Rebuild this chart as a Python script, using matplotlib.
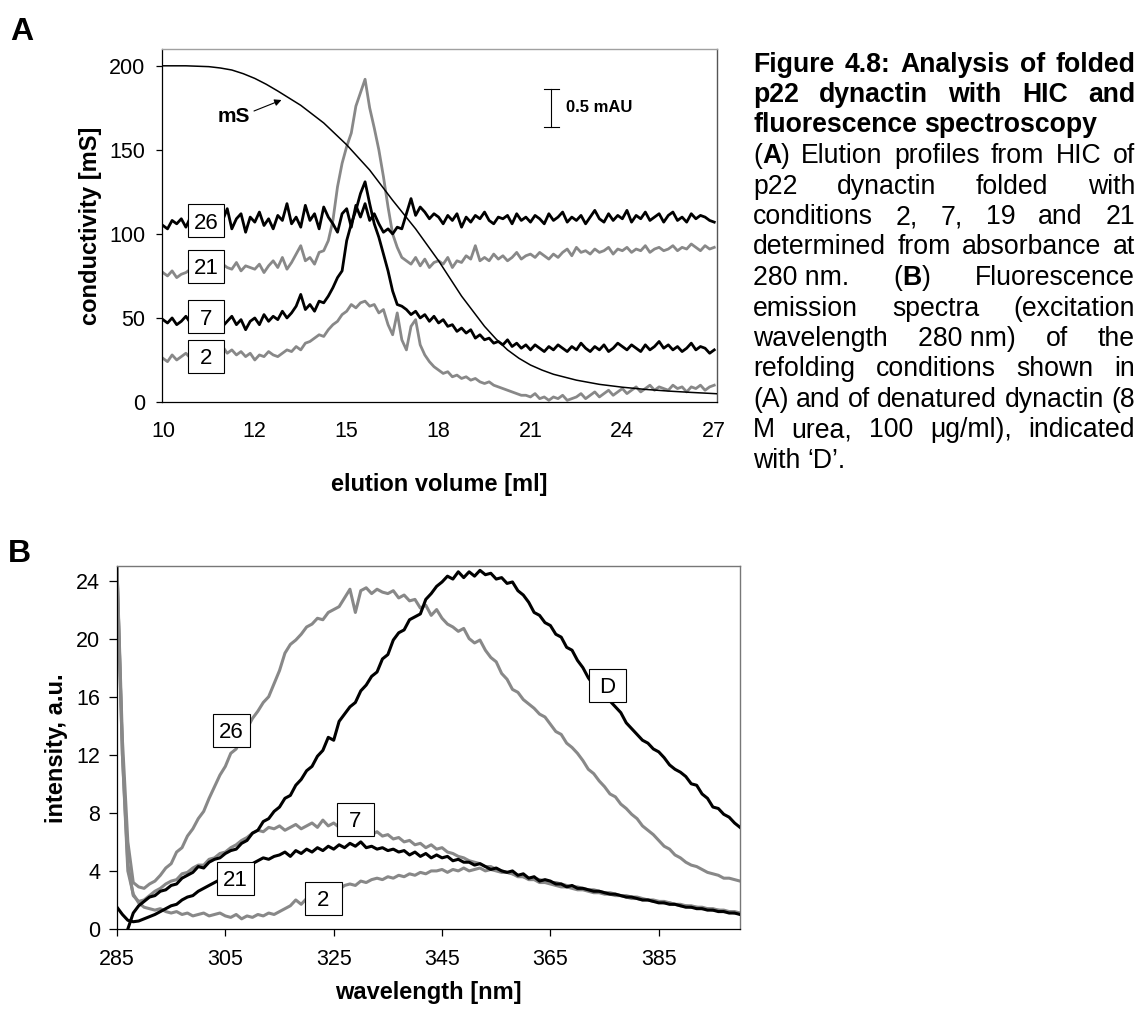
import numpy as np
import matplotlib
matplotlib.use('Agg')
import matplotlib.pyplot as plt
from matplotlib.patches import Rectangle
from matplotlib.lines import Line2D

plt.rcParams['font.family'] = ['Liberation Sans', 'DejaVu Sans']

# ---------------- Panel A data (x = category index of the Excel axis) ----------------
a_tick_labels = ['10', '12', '15', '18', '21', '24', '27']
a_pos = np.arange(121) * 0.05

ms_pos = [0, 0.25, 0.5, 0.625, 0.75, 0.875, 1.0, 1.125, 1.25, 1.5, 1.75, 2.0, 2.25, 2.5, 2.75,
          3.0, 3.25, 3.5, 3.625, 3.75, 3.875, 4.0, 4.125, 4.25, 4.5, 4.75, 5.0, 5.25, 5.5, 5.75, 6.0, 6.03]
ms_val = [200, 200, 199.5, 198.7, 197.5, 195.3, 192.5, 189, 185, 176.5, 166, 153, 138, 120, 103,
          84, 63, 45, 37.5, 31, 26, 22, 19, 16.5, 13, 10.5, 8.8, 7.5, 6.5, 5.7, 5.0, 4.9]

a26 = [105, 103, 108, 106, 109, 104, 110, 107, 105, 109,
       106, 111, 104, 108, 115, 103, 109, 112, 101, 110,
       107, 113, 105, 109, 103, 111, 108, 118, 106, 110,
       104, 117, 108, 112, 103, 116, 110, 106, 101, 112,
       115, 104, 117, 110, 118, 108, 112, 106, 101, 103,
       100, 104, 103, 112, 121, 111, 116, 113, 109, 112,
       110, 106, 111, 108, 112, 104, 110, 107, 111, 109,
       113, 108, 106, 110, 109, 111, 106, 112, 108, 110,
       107, 111, 109, 106, 112, 108, 110, 113, 107, 110,
       108, 111, 106, 110, 114, 109, 107, 112, 108, 111,
       109, 114, 107, 111, 109, 113, 108, 110, 112, 107,
       111, 113, 108, 110, 107, 112, 109, 111, 110, 108, 107]

a21 = [77, 75, 78, 74, 76, 77, 79, 78, 80, 79,
       81, 80, 78, 82, 80, 79, 83, 78, 81, 80,
       79, 82, 77, 81, 84, 80, 86, 79, 83, 88,
       93, 84, 86, 82, 89, 90, 96, 108, 128, 142,
       152, 160, 176, 184, 192, 175, 163, 150, 134, 116,
       100, 92, 86, 84, 82, 86, 81, 85, 80, 83,
       84, 82, 86, 80, 84, 83, 87, 85, 93, 84,
       86, 84, 88, 85, 87, 84, 86, 89, 85, 87,
       88, 86, 89, 87, 85, 88, 86, 89, 91, 87,
       92, 89, 90, 88, 91, 89, 90, 92, 88, 91,
       90, 92, 89, 91, 90, 93, 89, 91, 92, 90,
       91, 93, 90, 92, 91, 94, 92, 90, 93, 91, 92]

a7 = [49, 47, 50, 46, 48, 51, 47, 49, 46, 48,
      50, 47, 49, 45, 48, 51, 46, 49, 43, 48,
      50, 46, 52, 48, 51, 49, 54, 50, 53, 57,
      64, 55, 58, 54, 60, 59, 63, 68, 74, 78,
      96, 106, 114, 124, 131, 118, 106, 98, 88, 78,
      66, 58, 57, 55, 52, 54, 50, 52, 48, 51,
      47, 49, 45, 46, 42, 44, 41, 43, 38, 40,
      37, 38, 35, 36, 34, 37, 33, 35, 32, 34,
      31, 34, 32, 30, 33, 31, 34, 32, 30, 33,
      31, 35, 32, 30, 33, 31, 34, 30, 32, 35,
      33, 31, 34, 32, 30, 34, 31, 33, 36, 32,
      34, 31, 33, 30, 32, 35, 31, 33, 32, 29, 31]

a2 = [26, 24, 28, 25, 27, 29, 26, 30, 28, 31,
      29, 32, 30, 33, 29, 31, 28, 30, 27, 29,
      25, 28, 27, 30, 28, 27, 29, 31, 30, 33,
      31, 35, 36, 38, 40, 39, 43, 46, 48, 52,
      54, 58, 56, 59, 60, 57, 58, 53, 55, 46,
      40, 53, 37, 31, 45, 49, 34, 28, 24, 21,
      19, 17, 18, 15, 16, 14, 15, 13, 14, 12,
      11, 12, 10, 9, 8, 7, 6, 5, 4, 4,
      3, 5, 2, 3, 1, 3, 2, 4, 1, 2,
      3, 5, 2, 4, 6, 3, 5, 7, 4, 6,
      8, 5, 7, 9, 6, 8, 10, 7, 9, 8,
      7, 10, 8, 9, 6, 9, 8, 10, 7, 9, 10]

# ---------------- Panel B data ----------------
b_nm = np.arange(285, 401)
nan = float('nan')
bD = [nan, nan, 0.0, 1.1, 1.6, 1.9, 2.2, 2.3, 2.6, 2.7,
      3.0, 3.1, 3.5, 3.7, 3.9, 4.3, 4.2, 4.6, 4.8, 4.9,
      5.2, 5.4, 5.5, 5.9, 6.1, 6.6, 6.8, 7.4, 7.6, 8.1,
      8.4, 9.0, 9.2, 9.9, 10.3, 10.9, 11.2, 11.9, 12.3, 13.2,
      13.0, 14.3, 14.8, 15.3, 15.6, 16.4, 16.8, 17.4, 17.7, 18.6,
      18.9, 19.9, 20.4, 20.6, 21.3, 21.5, 21.7, 22.7, 23.1, 23.6,
      23.9, 24.3, 24.1, 24.6, 24.2, 24.6, 24.3, 24.7, 24.4, 24.5,
      24.1, 24.2, 23.8, 23.9, 23.3, 23.0, 22.5, 21.8, 21.6, 21.1,
      20.9, 20.3, 20.1, 19.4, 19.2, 18.5, 18.0, 17.3, 16.8, 16.4,
      16.1, 15.7, 15.3, 14.9, 14.2, 13.8, 13.4, 13.0, 12.8, 12.4,
      12.2, 11.8, 11.3, 11.0, 10.8, 10.5, 10.0, 9.9, 9.3, 9.0,
      8.4, 8.3, 7.9, 7.7, 7.3, 7.0]

b26 = [24.9, 13.0, 6.0, 3.2, 2.9, 2.8, 3.1, 3.3, 3.7, 4.2,
       4.5, 5.3, 5.6, 6.4, 6.9, 7.6, 8.1, 9.0, 9.8, 10.6,
       11.2, 12.1, 12.4, 13.2, 13.8, 14.5, 15.0, 15.6, 16.0, 16.9,
       17.8, 19.0, 19.6, 19.9, 20.3, 20.8, 21.0, 21.4, 21.3, 21.8,
       22.0, 22.2, 22.8, 23.4, 21.8, 23.3, 23.5, 23.1, 23.4, 23.2,
       23.1, 23.3, 22.8, 23.0, 22.6, 22.7, 22.1, 22.3, 21.6, 22.0,
       21.4, 21.0, 20.8, 20.5, 20.7, 20.0, 19.7, 19.9, 19.2, 18.7,
       18.4, 17.6, 17.2, 16.5, 16.3, 15.8, 15.5, 15.2, 14.8, 14.6,
       14.1, 13.6, 13.4, 12.8, 12.5, 12.1, 11.6, 11.0, 10.7, 10.2,
       9.8, 9.3, 9.1, 8.6, 8.3, 7.9, 7.6, 7.1, 6.8, 6.5,
       6.1, 5.7, 5.5, 5.1, 4.9, 4.6, 4.4, 4.3, 4.1, 3.9,
       3.8, 3.7, 3.5, 3.5, 3.4, 3.3]

b7 = [24.9, 12.0, 4.5, 2.3, 1.9, 2.0, 2.3, 2.6, 2.8, 3.1,
      3.3, 3.4, 3.8, 3.9, 4.2, 4.4, 4.4, 4.8, 4.9, 5.2,
      5.3, 5.6, 5.8, 6.1, 6.3, 6.6, 6.8, 6.7, 7.0, 6.9,
      7.1, 6.8, 7.0, 7.2, 6.9, 7.1, 7.3, 7.0, 7.5, 7.1,
      7.3, 7.0, 7.2, 6.8, 7.0, 6.7, 6.8, 6.5, 6.7, 6.4,
      6.5, 6.2, 6.3, 6.0, 6.1, 5.8, 5.9, 5.6, 5.8, 5.5,
      5.6, 5.3, 5.2, 5.0, 4.9, 4.7, 4.6, 4.5, 4.3, 4.3,
      4.1, 4.0, 3.9, 3.8, 3.6, 3.6, 3.4, 3.4, 3.2, 3.2,
      3.1, 3.0, 2.9, 2.9, 2.8, 2.7, 2.7, 2.6, 2.5, 2.5,
      2.4, 2.4, 2.3, 2.3, 2.2, 2.1, 2.1, 2.0, 2.0, 1.9,
      1.9, 1.8, 1.8, 1.7, 1.6, 1.6, 1.5, 1.5, 1.4, 1.4,
      1.3, 1.3, 1.2, 1.2, 1.1, 1.1]

b21 = [1.5, 1.0, 0.6, 0.5, 0.55, 0.7, 0.85, 1.0, 1.2, 1.4,
       1.6, 1.7, 2.0, 2.2, 2.3, 2.6, 2.8, 3.0, 3.2, 3.4,
       3.6, 3.8, 4.0, 4.1, 4.4, 4.5, 4.7, 4.9, 4.8, 5.0,
       5.1, 5.3, 5.0, 5.4, 5.2, 5.5, 5.3, 5.6, 5.4, 5.7,
       5.5, 5.8, 5.6, 5.9, 5.7, 6.0, 5.6, 5.7, 5.5, 5.6,
       5.4, 5.5, 5.3, 5.4, 5.1, 5.3, 5.0, 5.2, 4.9, 5.1,
       4.9, 5.0, 4.7, 4.8, 4.6, 4.6, 4.4, 4.5, 4.3, 4.1,
       4.2, 4.0, 3.9, 4.0, 3.7, 3.8, 3.5, 3.6, 3.3, 3.4,
       3.3, 3.1, 3.1, 2.9, 3.0, 2.8, 2.8, 2.7, 2.6, 2.6,
       2.5, 2.4, 2.4, 2.3, 2.2, 2.2, 2.1, 2.0, 2.0, 1.9,
       1.8, 1.8, 1.7, 1.7, 1.6, 1.5, 1.5, 1.4, 1.4, 1.3,
       1.3, 1.2, 1.2, 1.1, 1.1, 1.0]

b2 = [24.9, 12.0, 4.0, 2.4, 1.8, 1.5, 1.4, 1.3, 1.4, 1.2,
      1.1, 1.2, 1.0, 1.1, 0.9, 1.0, 1.1, 0.9, 1.0, 1.1,
      0.9, 0.8, 1.0, 0.7, 0.9, 0.8, 1.0, 0.9, 1.1, 1.0,
      1.2, 1.4, 1.6, 2.0, 1.7, 2.1, 2.3, 2.2, 2.5, 2.6,
      2.8, 2.7, 3.0, 3.1, 3.0, 3.3, 3.2, 3.4, 3.5, 3.4,
      3.6, 3.5, 3.7, 3.6, 3.8, 3.7, 3.9, 3.8, 4.0, 4.0,
      4.1, 3.9, 4.1, 4.0, 4.2, 4.0, 4.1, 4.2, 4.0, 4.1,
      4.0, 3.9, 3.9, 3.8, 3.7, 3.6, 3.5, 3.5, 3.4, 3.3,
      3.2, 3.2, 3.1, 3.0, 2.9, 2.9, 2.8, 2.7, 2.7, 2.6,
      2.5, 2.5, 2.4, 2.3, 2.3, 2.2, 2.2, 2.1, 2.0, 2.0,
      1.9, 1.9, 1.8, 1.7, 1.7, 1.6, 1.6, 1.5, 1.5, 1.4,
      1.4, 1.3, 1.3, 1.2, 1.2, 1.1]

# ---------------- Figure ----------------
W, H = 1141, 1010
fig = plt.figure(figsize=(W / 100, H / 100), dpi=100)
GRAY = '#888888'
TICK_FS = 15.5
LAB_FS = 17


def px_axes(l, t, r, b):
    return fig.add_axes([l / W, 1 - b / H, (r - l) / W, (b - t) / H])


def fx(x):
    return x / W


def fy(y):
    return 1 - y / H


def style_spines(ax, top_c, right_c):
    for s in ['left', 'bottom']:
        ax.spines[s].set_color('black')
        ax.spines[s].set_linewidth(0.9)
    ax.spines['top'].set_color(top_c)
    ax.spines['right'].set_color(right_c)
    ax.spines['top'].set_linewidth(1.0)
    ax.spines['right'].set_linewidth(1.0)


def boxed(ax, x, y, text, w=36, h=33, fs=16):
    cx, cy = ax.transData.transform((x, y))
    inv = ax.transData.inverted()
    x0, y0 = inv.transform((cx - w / 2, cy - h / 2))
    x1, y1 = inv.transform((cx + w / 2, cy + h / 2))
    ax.add_patch(Rectangle((x0, y0), x1 - x0, y1 - y0, facecolor='white',
                           edgecolor='black', lw=0.8, zorder=5, clip_on=False))
    em = fs * 100 / 72.0
    bx, by = inv.transform((cx, cy - 0.358 * em))
    ax.text(bx, by, text, ha='center', va='baseline', fontsize=fs, zorder=6)


# ---- Panel A ----
axA = px_axes(162, 49, 717, 402)
axA.plot(ms_pos, ms_val, color='black', lw=1.1, zorder=3)
axA.plot(a_pos, a21, color=GRAY, lw=2.0, zorder=2)
axA.plot(a_pos, a2, color=GRAY, lw=2.0, zorder=2)
axA.plot(a_pos, a26, color='black', lw=2.0, zorder=2.5)
axA.plot(a_pos, a7, color='black', lw=2.0, zorder=2.5)
axA.set_xlim(-0.01, 6.03)
axA.set_ylim(0, 210)
axA.set_xticks(range(len(a_tick_labels)))
axA.set_xticklabels(a_tick_labels)
axA.set_yticks([0, 50, 100, 150, 200])
axA.tick_params(axis='x', length=0, pad=13.5, labelsize=TICK_FS)
axA.tick_params(axis='y', length=4.3, width=0.9, pad=7.9, labelsize=TICK_FS)
style_spines(axA, '#a0a0a0', '#555555')

for lab, yv in zip(['26', '21', '7', '2'], [107.9, 80.6, 50.6, 27.3]):
    boxed(axA, 0.467, yv, lab)

# mS label and arrow
fig.text(fx(234), fy(117), 'mS', fontsize=15, fontweight='bold', ha='center', va='center')
axA.annotate('', xy=(281.5, H - 100), xytext=(254, H - 111),
             xycoords='figure pixels', textcoords='figure pixels',
             arrowprops=dict(arrowstyle='-|>', color='black', lw=0.8,
                             mutation_scale=10, shrinkA=0, shrinkB=0))

# 0.5 mAU scale bar
for (xa, ya, xb, yb) in [(551, 88.5, 551, 126.6), (543.5, 88.5, 558.5, 88.5),
                         (543.5, 126.6, 558.5, 126.6)]:
    fig.add_artist(Line2D([fx(xa), fx(xb)], [fy(ya), fy(yb)], color='black', lw=0.8))
fig.text(fx(566), fy(108), '0.5 mAU', fontsize=12, fontweight='bold', ha='left', va='center')

fig.text(fx(90), fy(226), 'conductivity [mS]', rotation=90, fontsize=LAB_FS,
         fontweight='bold', ha='center', va='center')
fig.text(fx(439.5), fy(485), 'elution volume [ml]', fontsize=LAB_FS,
         fontweight='bold', ha='center', va='center')

# ---- Panel B ----
axB = px_axes(117, 566, 740, 929)
axB.plot(b_nm, b26, color=GRAY, lw=2.2, zorder=2)
axB.plot(b_nm, b7, color=GRAY, lw=2.2, zorder=2)
axB.plot(b_nm, b2, color=GRAY, lw=2.2, zorder=2)
axB.plot(b_nm, b21, color='black', lw=2.2, zorder=3)
axB.plot(b_nm, bD, color='black', lw=2.2, zorder=3)
axB.set_xlim(285, 400)
axB.set_ylim(0, 25)
axB.set_xticks([285, 305, 325, 345, 365, 385])
axB.set_yticks([0, 4, 8, 12, 16, 20, 24])
axB.tick_params(axis='x', length=5, width=0.9, pad=9.4, labelsize=TICK_FS)
axB.tick_params(axis='y', length=5.5, width=0.9, pad=6.5, labelsize=TICK_FS)
style_spines(axB, '#777777', '#777777')

for lab, xv, yv in [('26', 306.1, 13.7), ('D', 375.5, 16.8), ('7', 329.0, 7.57),
                    ('21', 306.9, 3.5), ('2', 323.1, 2.1)]:
    boxed(axB, xv, yv, lab, w=37)

fig.text(fx(56), fy(748), 'intensity, a.u.', rotation=90, fontsize=LAB_FS,
         fontweight='bold', ha='center', va='center')
fig.text(fx(428), fy(993), 'wavelength [nm]', fontsize=LAB_FS,
         fontweight='bold', ha='center', va='center')

# Panel letters
fig.text(fx(10), fy(40), 'A', fontsize=23, fontweight='bold', ha='left', va='baseline')
fig.text(fx(8), fy(562), 'B', fontsize=23, fontweight='bold', ha='left', va='baseline')

# ---- Caption (justified) ----
cap_lines = [
    ("Figure 4.8: Analysis of folded", True, True),
    ("p22 dynactin with HIC and", True, True),
    ("fluorescence spectroscopy", True, False),
    ("(*A*) Elution profiles from HIC of", False, True),
    ("p22 dynactin folded with", False, True),
    ("conditions 2, 7, 19 and 21", False, True),
    ("determined from absorbance at", False, True),
    ("280\u00a0nm. (*B*) Fluorescence", False, True),
    ("emission spectra (excitation", False, True),
    ("wavelength 280\u00a0nm) of the", False, True),
    ("refolding conditions shown in", False, True),
    ("(A) and of denatured dynactin (8", False, True),
    ("M urea, 100 \u03bcg/ml), indicated", False, True),
    ("with \u2018D\u2019.", False, False),
]
CAP_L, CAP_R = 753, 1135
CAP_FS = 19.2
LINE0, LSTEP = 71.5, 30.5

renderer = fig.canvas.get_renderer()


def seg_w(txt, bold):
    t = fig.text(0, 0, txt, fontsize=CAP_FS, fontweight='bold' if bold else 'normal')
    w = t.get_window_extent(renderer).width
    t.remove()
    return w


for k, (line, allbold, justify) in enumerate(cap_lines):
    yb = LINE0 + k * LSTEP
    words = []
    for wd in line.split(' '):
        parts = wd.split('*')
        segs = []
        for j, p in enumerate(parts):
            if p == '':
                continue
            segs.append((p, allbold or (j % 2 == 1)))
        words.append(segs)
    widths = [[seg_w(s, b) for s, b in segs] for segs in words]
    total = sum(sum(w) for w in widths)
    if justify and len(words) > 1:
        gap = (CAP_R - CAP_L - total) / (len(words) - 1)
    else:
        gap = seg_w('a a', allbold) - seg_w('aa', allbold)
    x = CAP_L
    for segs, ws in zip(words, widths):
        for (s, b), w in zip(segs, ws):
            fig.text(fx(x), fy(yb), s, fontsize=CAP_FS,
                     fontweight='bold' if b else 'normal', ha='left', va='baseline')
            x += w
        x += gap

fig.savefig('out.png', dpi=100)
